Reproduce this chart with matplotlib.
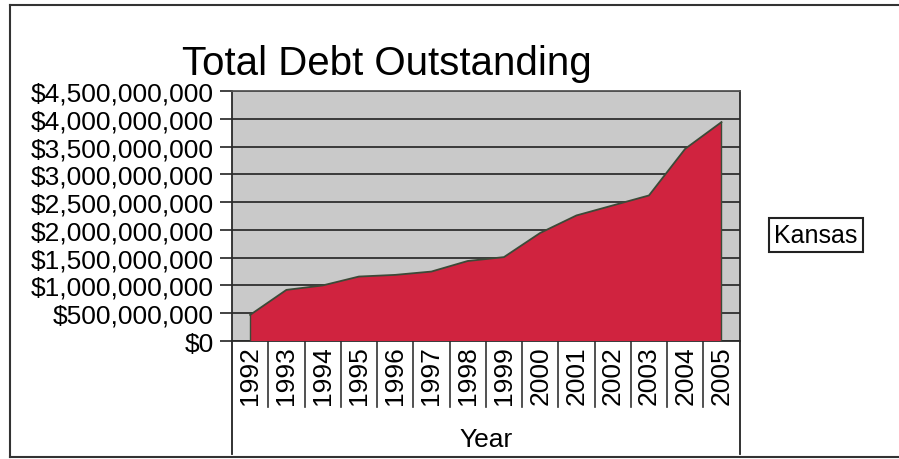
import matplotlib
matplotlib.use("Agg")
import matplotlib.pyplot as plt
from matplotlib.ticker import FuncFormatter, MultipleLocator
import numpy as np

years = ["1992", "1993", "1994", "1995", "1996", "1997", "1998",
         "1999", "2000", "2001", "2002", "2003", "2004", "2005"]
kansas_debt = [470e6, 920e6, 1000e6, 1160e6, 1190e6, 1250e6, 1440e6,
               1510e6, 1945e6, 2260e6, 2440e6, 2620e6, 3460e6, 3940e6]
series_name = "Kansas"
title = "Total Debt Outstanding"
x_label = "Year"

plt.rcParams['font.family'] = ['Liberation Sans', 'DejaVu Sans']

W, H = 899, 460
fig = plt.figure(figsize=(W / 100, H / 100), dpi=100)
fig.patch.set_facecolor('white')

# outer chart frame
frame_kw = dict(color='#333333', lw=1.5, transform=fig.transFigure)
fig.add_artist(plt.Line2D([10 / W, 10 / W], [1 - 6 / H, 1 - 458 / H], **frame_kw))
fig.add_artist(plt.Line2D([10 / W, 1.0], [1 - 6 / H, 1 - 6 / H], **frame_kw))
fig.add_artist(plt.Line2D([10 / W, 1.0], [1 - 458 / H, 1 - 458 / H], **frame_kw))

left, right, top, bottom = 232, 739.6, 92, 342
ax = fig.add_axes([left / W, 1 - bottom / H, (right - left) / W, (bottom - top) / H])
ax.set_facecolor('#c9c9c9')

x = np.arange(len(years))
ax.fill_between(x, kansas_debt, 0, facecolor='#d0233f', edgecolor='none', zorder=3)
ax.plot(x, kansas_debt, color='#3c4a38', lw=1.3, zorder=4)
ax.plot([x[0], x[0]], [0, kansas_debt[0]], color='#3c4a38', lw=1.0, zorder=4)
ax.plot([x[-1], x[-1]], [0, kansas_debt[-1]], color='#3c4a38', lw=1.0, zorder=4)

ax.set_xlim(-0.5, len(years) - 0.5)
ax.set_ylim(0, 4.5e9)
ax.yaxis.set_major_locator(MultipleLocator(5e8))
ax.yaxis.set_major_formatter(FuncFormatter(lambda v, p: "${:,.0f}".format(v)))
ax.grid(axis='y', color='#3a3a3a', lw=1.4, zorder=1)
ax.set_axisbelow(True)
ax.tick_params(axis='y', direction='out', length=9, width=1.2, color='#222222',
               labelsize=19, pad=4)

ax.set_xticks(x)
ax.set_xticklabels(years, rotation=90, fontsize=19)
ax.tick_params(axis='x', length=0, pad=3)

for s in ax.spines.values():
    s.set_color('#2a2a2a')
    s.set_linewidth(1.3)
ax.spines['top'].set_color('#555555')

# category separators below the axis
trans = ax.get_xaxis_transform()
for k in range(1, len(years)):
    ax.plot([k - 0.5, k - 0.5], [0, -0.264], color='#333333', lw=1.2,
            transform=trans, clip_on=False)
for xb in (-0.5, len(years) - 0.5):
    ax.plot([xb, xb], [0, -0.452], color='#222222', lw=1.3,
            transform=trans, clip_on=False)

ax.text(0.5, -0.392, x_label, transform=ax.transAxes, ha='center', va='center',
        fontsize=19)

fig.text(387 / W, 1 - 75 / H, title, ha='center', va='baseline', fontsize=29)

fig.text(816 / W, 1 - 236 / H, series_name, ha='center', va='center', fontsize=18,
         bbox=dict(boxstyle='square,pad=0.2', facecolor='white',
                   edgecolor='#222222', lw=1.5))

fig.savefig('out.png', dpi=100)
